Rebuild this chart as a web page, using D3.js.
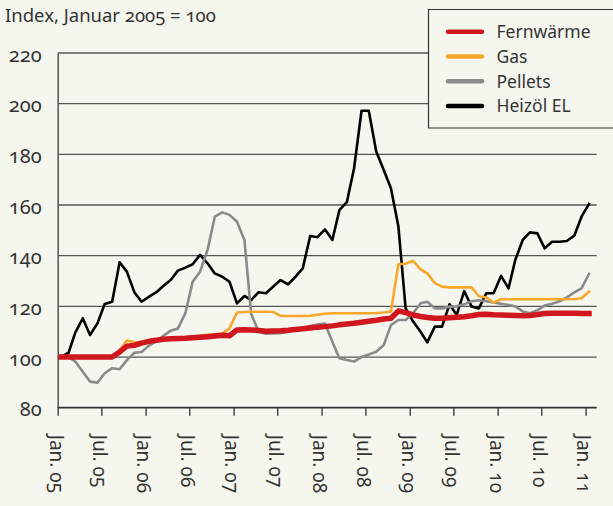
<!DOCTYPE html>
<html>
<head>
<meta charset="utf-8">
<script src="https://cdn.jsdelivr.net/npm/d3@7"></script>
<style>
  body { margin: 0; background: #f5f7ef; }
  svg { display: block; font-family: "Noto Sans", sans-serif; }
  svg text { font-variant-numeric: oldstyle-nums; font-feature-settings: "onum" 1; }
</style>
</head>
<body>
<svg id="chart" width="613" height="506"></svg>
<script>
// index values, monthly Jan 2005 .. Jan 2011 (73 points)
const fernwaerme = [100,100,100,100,100,100,100,100,102,104.3,104.6,105.5,106.2,106.6,107,107.2,107.3,107.4,107.6,107.8,
  108,108.3,108.6,108.4,110.7,110.8,110.7,110.5,110.2,110.3,110.4,110.6,110.9,111.2,111.5,111.8,112,112.3,112.7,113,
  113.3,113.7,114.1,114.5,115,115.3,118.2,117.5,116.6,116,115.6,115.3,115.3,115.5,115.7,115.9,116.3,116.8,116.9,116.7,
  116.6,116.5,116.4,116.3,116.4,116.8,117.2,117.3,117.3,117.3,117.3,117.2,117.2];
const gas = [100,100,100,100,100,100,100,100,102.5,106.5,105.8,106,106.5,107,107.3,107.5,107.7,107.8,108,108.5,
  108.8,109,109.3,111.3,117.6,117.8,117.9,117.9,117.9,117.8,116.2,116.2,116.2,116.2,116.3,116.7,117.1,117.3,117.3,117.3,
  117.3,117.3,117.3,117.4,117.6,118,136.6,136.8,138,134.6,133,129.2,127.8,127.5,127.5,127.5,127.5,124,123.5,121.5,
  122.8,122.8,122.8,122.8,122.8,122.8,122.8,122.8,122.8,122.8,122.9,123.2,125.8];
const pellets = [100,100.1,98.2,94.2,90.3,89.9,93.6,95.6,95.2,98.8,101.7,102,104.5,106.3,108.3,110.4,111.3,117.3,129.7,133.7,
  142.3,155.4,157.1,156.1,153.4,146.2,117,110,109.2,109.3,109.4,110,110.8,111.5,112.2,112.8,113.2,106,99.5,98.8,
  98.2,100,101,102.1,104.7,112.6,114.6,114.6,117.3,121.2,121.8,119.2,119.2,119.9,120,120.8,122,122.4,122,121.5,
  121,120.5,120,118,117.3,118.5,120.3,121,122,123.5,125.5,127.1,132.8];
const heizoel = [100,101.7,109.6,115.3,108.7,113.3,120.9,121.8,137.4,133.7,125.6,121.8,123.8,125.6,128,130.4,134.1,135.3,136.6,140.3,
  137,133,131.7,129.7,121.2,124.1,122.5,125.6,125.2,127.8,130.4,128.7,131.7,135,147.8,147.3,150.4,146.2,158,161.1,
  174.5,197.2,197.2,181.1,173.8,166.6,151.5,119.2,114,110,105.8,112,112,120.8,116.6,126,119.9,119.2,125.2,125.2,
  132,127.1,138.3,146.2,149.2,148.8,142.9,145.5,145.5,145.8,147.9,155.4,160.4];

const seriesNames = ["Fernwärme", "Gas", "Pellets", "Heizöl EL"];
const seriesColors = ["#d0161e", "#f9a72b", "#8a8a8a", "#000000"];
const seriesWidths = [5.5, 2.6, 2.6, 2.6];
const seriesValues = [fernwaerme, gas, pellets, heizoel];

const yTicks = [80, 100, 120, 140, 160, 180, 200, 220];
const xTickLabels = ["Jan. 05","Jul. 05","Jan. 06","Jul. 06","Jan. 07","Jul. 07","Jan. 08",
  "Jul. 08","Jan. 09","Jul. 09","Jan. 10","Jul. 10","Jan. 11"];

// data points sit mid-month, ticks on the first of Jan / Jul
const months = d3.timeMonth.range(new Date(2005, 0, 1), new Date(2011, 1, 1))
  .map(d => new Date(d.getFullYear(), d.getMonth(), 15));
const tickDates = d3.timeMonth.every(6).range(new Date(2005, 0, 1), new Date(2011, 0, 2));

const svg = d3.select("#chart");
const plotLeft = 57.7, plotRight = 596.7, plotTop = 53, plotBottom = 407.7;

const x = d3.scaleTime()
  .domain([new Date(2005, 0, 1), new Date(2011, 1, 16)])
  .range([plotLeft, plotRight]);
const y = d3.scaleLinear().domain([80, 220]).range([plotBottom, plotTop]);

// title
svg.append("text")
  .attr("x", 5).attr("y", 22)
  .attr("font-size", 18.5).attr("fill", "#333")
  .text("Index, Januar 2005 = 100");

// gridlines
svg.append("g")
  .selectAll("line")
  .data(yTicks.filter(v => v > 80))
  .join("line")
  .attr("x1", plotLeft).attr("x2", plotRight)
  .attr("y1", d => y(d)).attr("y2", d => y(d))
  .attr("stroke", "#555").attr("stroke-width", 1.3);

// y axis
const yAxis = svg.append("g")
  .attr("transform", `translate(${plotLeft},0)`)
  .call(d3.axisLeft(y).tickValues(yTicks).tickSize(0).tickPadding(16));
yAxis.select(".domain").attr("stroke", "#555").attr("stroke-width", 1.5);
yAxis.selectAll("text")
  .attr("font-family", "Noto Sans, sans-serif")
  .attr("font-size", 20).attr("fill", "#333")
  .attr("dy", "0.4em");

// x axis
const xAxis = svg.append("g")
  .attr("transform", `translate(0,${plotBottom})`)
  .call(d3.axisBottom(x).tickValues(tickDates).tickSize(8).tickFormat((d, i) => xTickLabels[i]));
xAxis.select(".domain").attr("d", `M${plotLeft},0H${plotRight}`).attr("stroke", "#333").attr("stroke-width", 1.8);
xAxis.selectAll(".tick line").attr("stroke", "#333").attr("stroke-width", 1.3);
xAxis.selectAll("text")
  .attr("font-family", "Noto Sans, sans-serif")
  .attr("font-size", 19).attr("fill", "#333")
  .attr("text-anchor", "start")
  .attr("transform", "translate(-2,27) rotate(90)")
  .attr("x", 0).attr("y", 0).attr("dy", "0.35em");

// lines (drawn so Fernwärme ends on top)
const line = d3.line()
  .x((d, i) => x(months[i]))
  .y(d => y(d));

const order = [3, 2, 1, 0];
svg.append("g")
  .selectAll("path")
  .data(order)
  .join("path")
  .attr("d", k => line(seriesValues[k]))
  .attr("fill", "none")
  .attr("stroke", k => seriesColors[k])
  .attr("stroke-width", k => seriesWidths[k])
  .attr("stroke-linejoin", "round")
  .attr("stroke-linecap", "square");

// legend
const legend = svg.append("g");
legend.append("path")
  .attr("d", "M613,9.5H428.5V128H613")
  .attr("fill", "#f5f7ef").attr("stroke", "#333").attr("stroke-width", 1.2);

const rowY = d3.scalePoint().domain(seriesNames).range([31.7, 106]);
const rows = legend.selectAll("g.row")
  .data(seriesNames)
  .join("g").attr("class", "row")
  .attr("transform", d => `translate(0,${rowY(d)})`);
rows.append("line")
  .attr("x1", 448).attr("x2", 482)
  .attr("stroke", (d, i) => seriesColors[i])
  .attr("stroke-width", 4.5).attr("stroke-linecap", "round");
rows.append("text")
  .attr("x", 496.5).attr("dy", "0.36em")
  .attr("font-size", 17.5).attr("fill", "#333")
  .text(d => d);
</script>
</body>
</html>
